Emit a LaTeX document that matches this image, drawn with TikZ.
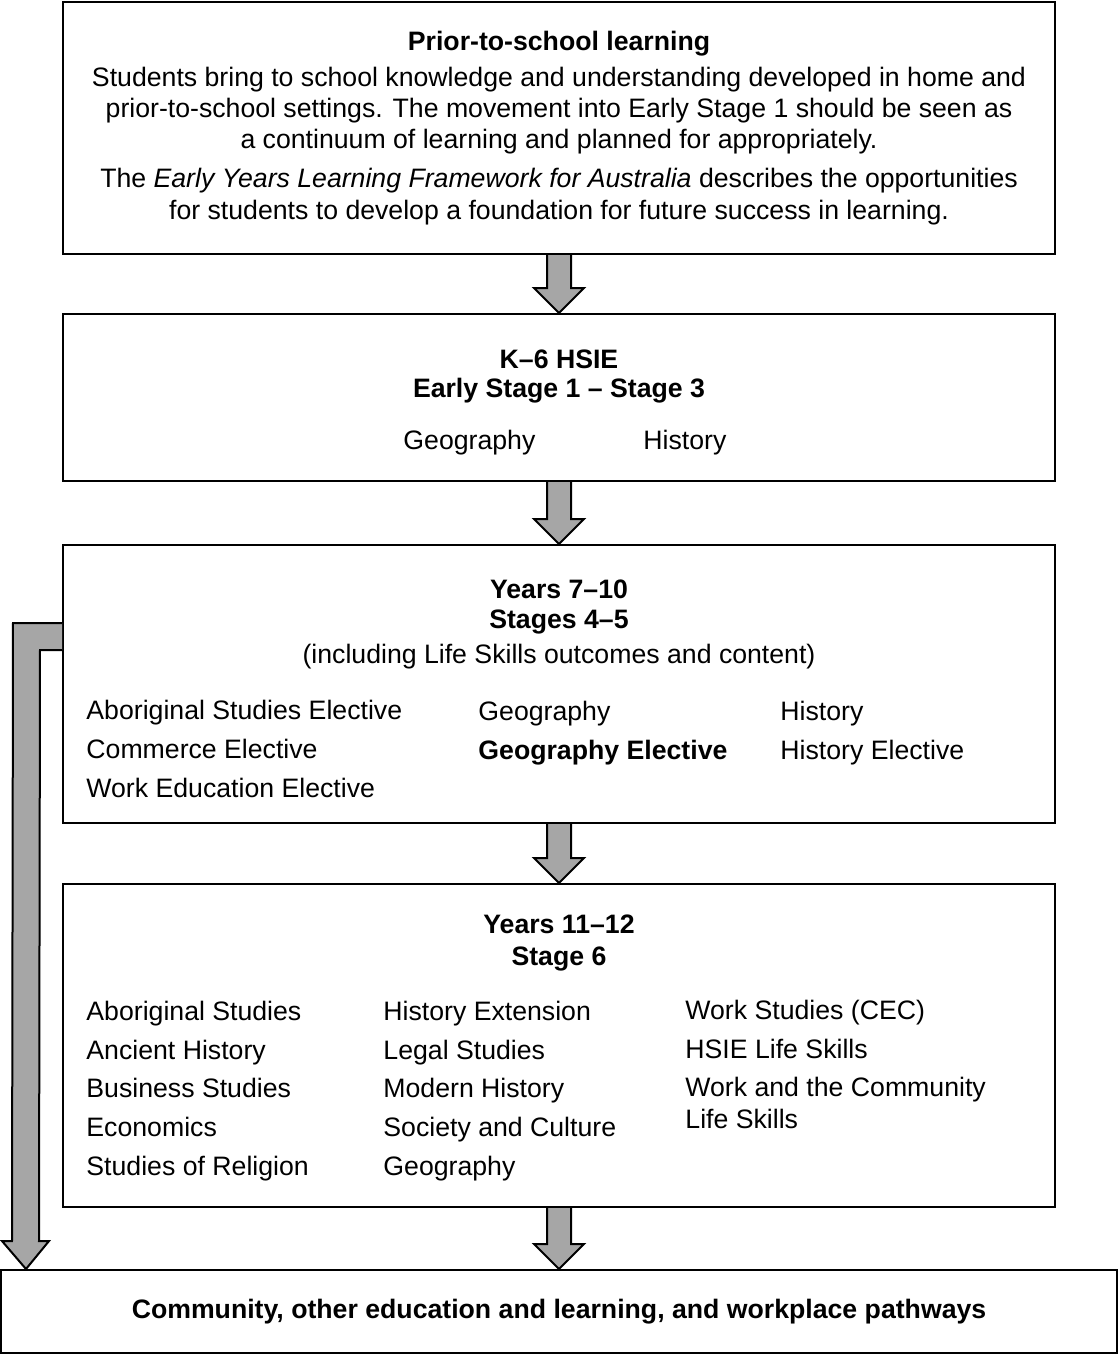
\documentclass[tikz,border=0pt]{standalone}
\usepackage{fontspec}
\setmainfont{Liberation Sans}
\usetikzlibrary{calc}

\tikzset{
  stagebox/.style={draw, line width=0.9pt, fill=white, inner sep=0pt,
                   minimum width=992*0.45pt},
  fatarrow/.style={draw, line width=0.9pt, fill=black!35, line join=miter},
  heading/.style={inner sep=0pt, anchor=base,
                  font=\fontsize{12}{14}\selectfont\bfseries},
  plaintext/.style={inner sep=0pt, anchor=base,
                    font=\fontsize{12}{14}\selectfont},
  bodytext/.style={inner sep=0pt, anchor=base, align=center,
                   font=\fontsize{12}{14}\selectfont},
  itemcol/.style={inner sep=0pt, anchor=base west, align=left,
                  font=\fontsize{12}{17.4}\selectfont}
}

% block arrow from the bottom of one box to the top of the next
\newcommand{\flowarrow}[2]{%
  \filldraw[fatarrow] ($(#1.south)+(12,0)$) -- ($(#2.north)+(12,-25)$)
    -- ($(#2.north)+(25,-25)$) -- (#2.north) -- ($(#2.north)+(-25,-25)$)
    -- ($(#2.north)+(-12,-25)$) -- ($(#1.south)+(-12,0)$);}

\begin{document}
\begin{tikzpicture}[x=0.45pt, y=-0.45pt]
\useasboundingbox (0,0) rectangle (1118,1354);

% boxes
\node[stagebox, minimum height=252*0.45pt] (prior) at (559,128) {};
\node[stagebox, minimum height=167*0.45pt] (kSix) at (559,397.5) {};
\node[stagebox, minimum height=278*0.45pt] (junior) at (559,684) {};
\node[stagebox, minimum height=323*0.45pt] (senior) at (559,1045.5) {};
\node[stagebox, minimum width=1116*0.45pt, minimum height=83*0.45pt] (pathways) at (559,1311.5) {};

% prior-to-school (multi-line nodes sit on their last baseline)
\node[heading] (priorTitle) at (559,50) {Prior-to-school learning};
\node[bodytext] (priorText) at (559,219) {Students bring to school knowledge and understanding developed in home and\\
  prior-to-school settings. The movement into Early Stage 1 should be seen as\\
  a continuum of learning and planned for appropriately.\\[3.6pt]
  The \textit{Early Years Learning Framework for Australia} describes the opportunities\\
  for students to develop a foundation for future success in learning.};

% K-6
\node[heading] (kSixTitle) at (559,368) {K--6 HSIE};
\node[heading] (kSixStage) at (559,397) {Early Stage 1 -- Stage 3};
\node[plaintext, anchor=base west] (kSixGeo) at (403,449) {Geography};
\node[plaintext, anchor=base west] (kSixHist) at (643,449) {History};

% years 7-10
\node[heading] (juniorTitle) at (559,598) {Years 7--10};
\node[heading] (juniorStage) at (559,628) {Stages 4--5};
\node[plaintext] (juniorNote) at (559,663) {(including Life Skills outcomes and content)};
\node[itemcol] (juniorA) at (86,797) {Aboriginal Studies Elective\\Commerce Elective\\Work Education Elective};
\node[itemcol] (juniorB) at (478,759) {Geography\\\textbf{Geography Elective}};
\node[itemcol] (juniorC) at (780,759) {History\\History Elective};

% years 11-12
\node[heading] (seniorTitle) at (559,933) {Years 11--12};
\node[heading] (seniorStage) at (559,965) {Stage 6};
\node[itemcol] (seniorA) at (86,1175) {Aboriginal Studies\\Ancient History\\Business Studies\\Economics\\Studies of Religion};
\node[itemcol] (seniorB) at (383,1175) {History Extension\\Legal Studies\\Modern History\\Society and Culture\\Geography};
\node[itemcol] (seniorC) at (685,1128) {Work Studies (CEC)\\HSIE Life Skills\\Work and the Community\\[-3.4pt]Life Skills};

% pathways
\node[heading] (pathwaysText) at (559,1318) {Community, other education and learning, and workplace pathways};

% arrows
\flowarrow{prior}{kSix}
\flowarrow{kSix}{junior}
\flowarrow{junior}{senior}
\flowarrow{senior}{pathways}

\coordinate (bendTop) at ($(junior.north west)+(0,79)$);
\coordinate (bendBot) at ($(junior.north west)+(0,106)$);
\coordinate (bendTip) at ($(pathways.north west)+(26,0)$);
\filldraw[fatarrow] (bendTop) -- (13,0 |- bendTop) -- ($(bendTip)+(-14,-28)$)
  -- ($(bendTip)+(-24,-28)$) -- (bendTip) -- ($(bendTip)+(23,-28)$)
  -- ($(bendTip)+(13,-28)$) -- (40,0 |- bendBot) -- (bendBot);
\end{tikzpicture}
\end{document}
